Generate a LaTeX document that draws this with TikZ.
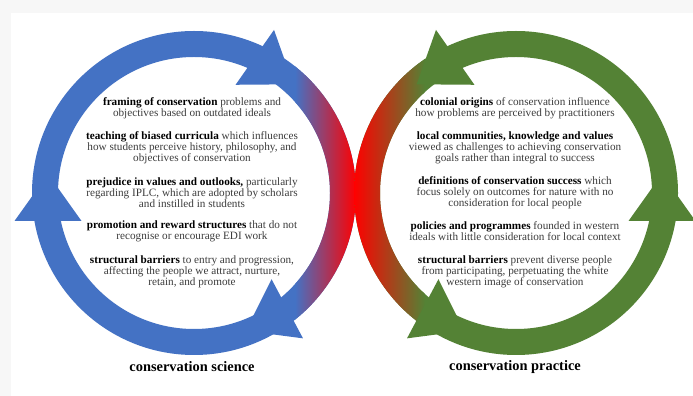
\documentclass[tikz,border=0pt]{standalone}
\usepackage{fontspec}
\setmainfont{Liberation Serif}
\definecolor{ringblue}{RGB}{68,114,196}
\definecolor{ringgreen}{RGB}{84,130,53}
\definecolor{ringred}{RGB}{255,0,0}
\definecolor{textgray}{RGB}{60,60,60}
\definecolor{pagegray}{RGB}{247,247,247}
\newcommand{\keyterm}[1]{\textcolor{black}{\textbf{#1}}}
\begin{document}
\begin{tikzpicture}[x=1pt, y=1pt, line join=round,
	blocktext/.style={inner sep=0pt, align=center, text=textgray, font=\fontsize{11.2}{11}\selectfont},
	ringtitle/.style={inner sep=0pt, font=\fontsize{14.4}{16}\selectfont\bfseries}]
	\tikzset{ringhead/.pic={
			\fill (112.5,28)--(179.5,28)--(146,-19)--cycle;
	}}
	\useasboundingbox (0,0) rectangle (693,396);
	\fill[pagegray] (0,0) rectangle (693,396);
	\fill[white] (11,0) rectangle (693,383);
	\coordinate (cl) at (194,203);
	\coordinate (cr) at (516,203);
	% science ring, blue turning red
	\fill[ringblue, even odd rule] (cl) circle (162pt) (cl) circle (136pt);
	\begin{scope}[even odd rule]
		\clip (cl) circle (162pt) (cl) circle (136pt);
		\shade[left color=ringblue, right color=ringred] (295,0) rectangle (356,396);
	\end{scope}
	% practice ring, red turning green
	\fill[ringgreen, even odd rule] (cr) circle (162pt) (cr) circle (136pt);
	\begin{scope}[even odd rule]
		\clip (cr) circle (162pt) (cr) circle (136pt);
		\shade[left color=ringred, right color=ringgreen] (354,0) rectangle (425,396);
	\end{scope}
	\foreach \a in {55,180,-62} \path (cl) pic[ringblue, rotate=\a]{ringhead};
	\foreach \a in {125,0,242} \path (cr) pic[ringgreen, rotate=\a, yscale=-1]{ringhead};
	
	\node[blocktext] (sci1) at (192,287.5) {\keyterm{framing of conservation} problems and\\objectives based on outdated ideals};
	\node[blocktext] (sci2) at (192,248) {\keyterm{teaching of biased curricula} which influences\\how students perceive history, philosophy, and\\objectives of conservation};
	\node[blocktext] (sci3) at (192,203.3) {\keyterm{prejudice in values and outlooks,} particularly\\regarding IPLC, which are adopted by scholars\\and instilled in students};
	\node[blocktext] (sci4) at (192,164.5) {\keyterm{promotion and reward structures} that do not\\recognise or encourage EDI work};
	\node[blocktext] (sci5) at (192,124) {\keyterm{structural barriers} to entry and progression,\\affecting the people we attract, nurture,\\retain, and promote};
	\node[ringtitle] (scititle) at (192,29) {conservation science};
	
	\node[blocktext] (prac1) at (515,287.5) {\keyterm{colonial origins} of conservation influence\\how problems are perceived by practitioners};
	\node[blocktext] (prac2) at (515,248) {\keyterm{local communities, knowledge and values}\\viewed as challenges to achieving conservation\\goals rather than integral to success};
	\node[blocktext] (prac3) at (515,203.3) {\keyterm{definitions of conservation success} which\\focus solely on outcomes for nature with no\\consideration for local people};
	\node[blocktext] (prac4) at (515,164.5) {\keyterm{policies and programmes} founded in western\\ideals with little consideration for local context};
	\node[blocktext] (prac5) at (515,124) {\keyterm{structural barriers} prevent diverse people\\from participating, perpetuating the white\\western image of conservation};
	\node[ringtitle] (practitle) at (515,29) {conservation practice};
	
\end{tikzpicture}
\end{document}
